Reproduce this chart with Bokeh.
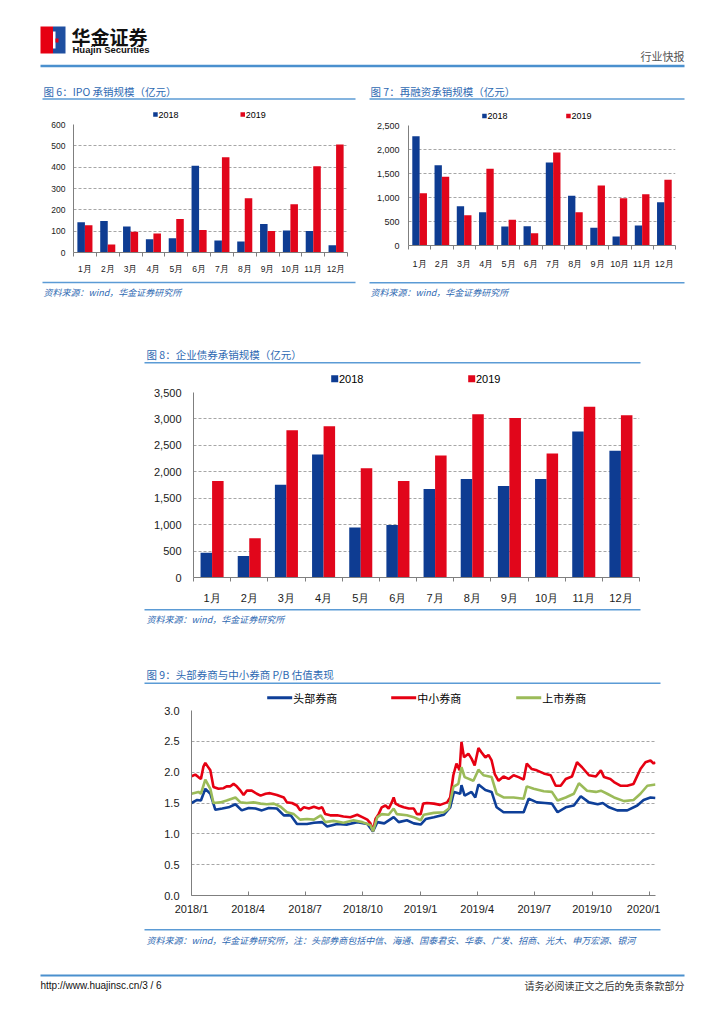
import pandas as pd
from bokeh.plotting import figure
from bokeh.models import (Range1d, FixedTicker, SingleIntervalTicker, NumeralTickFormatter,
                          ColumnDataSource)
from bokeh.layouts import column, row
from bokeh.transform import dodge
from bokeh.core.properties import value
from bokeh.embed import file_html
from bokeh.resources import INLINE

# ---------------- data ----------------
months = ["1月", "2月", "3月", "4月", "5月", "6月", "7月", "8月", "9月", "10月", "11月", "12月"]
series_names = ["2018", "2019"]

ipo_2018 = [142, 148, 122, 62, 67, 407, 56, 51, 134, 103, 101, 34]
ipo_2019 = [128, 37, 97, 89, 157, 106, 446, 254, 101, 226, 404, 506]

refi_2018 = [2278, 1674, 819, 694, 396, 403, 1729, 1035, 368, 188, 417, 903]
refi_2019 = [1090, 1431, 632, 1597, 535, 257, 1938, 694, 1250, 986, 1069, 1368]

bond_2018 = [469, 406, 1756, 2325, 944, 994, 1675, 1863, 1731, 1863, 2763, 2400]
bond_2019 = [1825, 744, 2788, 2863, 2069, 1825, 2306, 3088, 3019, 2344, 3231, 3069]

pb_names = ["头部券商", "中小券商", "上市券商"]

small_dates = ["2018-01-01", "2018-01-07", "2018-01-12", "2018-01-16", "2018-01-20", "2018-01-23", "2018-01-27", "2018-01-31", "2018-02-05", "2018-02-13",
               "2018-02-21", "2018-02-26", "2018-03-04", "2018-03-09", "2018-03-14", "2018-03-20", "2018-03-25", "2018-03-30", "2018-04-07", "2018-04-15",
               "2018-04-21", "2018-04-29", "2018-05-06", "2018-05-17", "2018-05-28", "2018-06-02", "2018-06-10", "2018-06-18", "2018-06-23", "2018-06-29",
               "2018-07-07", "2018-07-15", "2018-07-23", "2018-07-28", "2018-08-02", "2018-08-10", "2018-08-21", "2018-08-31", "2018-09-11", "2018-09-22",
               "2018-09-30", "2018-10-08", "2018-10-13", "2018-10-17", "2018-10-21", "2018-10-26", "2018-10-31", "2018-11-06", "2018-11-11", "2018-11-16",
               "2018-11-19", "2018-11-22", "2018-11-27", "2018-12-05", "2018-12-13", "2018-12-21", "2018-12-26", "2019-01-01", "2019-01-05", "2019-01-11",
               "2019-01-22", "2019-02-01", "2019-02-12", "2019-02-17", "2019-02-22", "2019-02-27", "2019-03-04", "2019-03-07", "2019-03-11", "2019-03-18",
               "2019-03-23", "2019-03-28", "2019-04-03", "2019-04-08", "2019-04-14", "2019-04-19", "2019-04-24", "2019-04-29", "2019-05-05", "2019-05-13",
               "2019-05-21", "2019-05-29", "2019-06-06", "2019-06-14", "2019-06-19", "2019-06-27", "2019-07-05", "2019-07-16", "2019-07-27", "2019-08-04",
               "2019-08-12", "2019-08-20", "2019-08-30", "2019-09-07", "2019-09-15", "2019-09-26", "2019-10-07", "2019-10-15", "2019-10-20", "2019-10-30",
               "2019-11-05", "2019-11-15", "2019-11-26", "2019-12-06", "2019-12-11", "2019-12-17", "2019-12-25", "2020-01-02", "2020-01-07", "2020-01-10"]
small_pb = [1.935, 1.96, 1.92, 1.89, 2.09, 2.15, 2.09, 2.03, 1.76, 1.73,
            1.74, 1.77, 1.77, 1.81, 1.77, 1.70, 1.63, 1.70, 1.70, 1.65,
            1.62, 1.65, 1.66, 1.63, 1.59, 1.51, 1.50, 1.46, 1.38, 1.43,
            1.41, 1.44, 1.41, 1.43, 1.32, 1.30, 1.30, 1.28, 1.27, 1.31,
            1.27, 1.23, 1.17, 1.05, 1.24, 1.32, 1.43, 1.46, 1.41, 1.51,
            1.59, 1.49, 1.46, 1.43, 1.41, 1.41, 1.32, 1.32, 1.49, 1.50,
            1.49, 1.47, 1.51, 1.59, 1.95, 2.14, 2.03, 2.49, 2.24, 2.30,
            2.22, 2.11, 2.39, 2.32, 2.24, 2.28, 2.19, 1.97, 1.86, 1.93,
            1.89, 1.95, 1.92, 1.88, 2.14, 2.05, 2.03, 1.98, 1.95, 1.78,
            1.78, 1.89, 1.93, 2.16, 2.08, 1.95, 1.93, 2.03, 1.92, 1.89,
            1.84, 1.78, 1.78, 1.81, 1.92, 2.05, 2.16, 2.19, 2.14, 2.16]

listed_dates = ["2018-01-01", "2018-01-12", "2018-01-16", "2018-01-23", "2018-01-31", "2018-02-05", "2018-02-16", "2018-02-26", "2018-03-12", "2018-03-20",
                "2018-03-30", "2018-04-10", "2018-04-21", "2018-05-01", "2018-05-12", "2018-05-23", "2018-06-02", "2018-06-13", "2018-06-23", "2018-07-04",
                "2018-07-15", "2018-07-26", "2018-08-02", "2018-08-15", "2018-08-31", "2018-09-16", "2018-09-30", "2018-10-13", "2018-10-17", "2018-10-24",
                "2018-10-31", "2018-11-11", "2018-11-19", "2018-11-24", "2018-12-10", "2018-12-21", "2019-01-01", "2019-01-06", "2019-01-22", "2019-02-07",
                "2019-02-15", "2019-02-22", "2019-03-02", "2019-03-07", "2019-03-12", "2019-03-26", "2019-04-03", "2019-04-11", "2019-04-24", "2019-05-02",
                "2019-05-13", "2019-05-29", "2019-06-14", "2019-06-19", "2019-06-30", "2019-07-16", "2019-07-29", "2019-08-07", "2019-08-20", "2019-09-02",
                "2019-09-10", "2019-09-23", "2019-10-07", "2019-10-15", "2019-10-25", "2019-11-05", "2019-11-21", "2019-12-06", "2019-12-17", "2019-12-28",
                "2020-01-10"]
listed_pb = [1.65, 1.68, 1.65, 1.88, 1.73, 1.50, 1.51, 1.54, 1.59, 1.51,
             1.50, 1.51, 1.49, 1.48, 1.49, 1.44, 1.35, 1.32, 1.23, 1.24,
             1.23, 1.30, 1.19, 1.21, 1.18, 1.22, 1.19, 1.14, 1.04, 1.27,
             1.32, 1.31, 1.41, 1.32, 1.30, 1.27, 1.22, 1.31, 1.34, 1.35,
             1.41, 1.76, 1.81, 2.08, 1.92, 1.86, 2.04, 1.95, 1.92, 1.65,
             1.59, 1.59, 1.57, 1.77, 1.73, 1.69, 1.68, 1.54, 1.59, 1.65,
             1.82, 1.70, 1.68, 1.70, 1.65, 1.59, 1.53, 1.55, 1.65, 1.78,
             1.80]

head_dates = ["2018-01-01", "2018-01-10", "2018-01-16", "2018-01-23", "2018-01-31", "2018-02-08", "2018-02-19", "2018-03-01", "2018-03-12", "2018-03-22",
              "2018-04-02", "2018-04-13", "2018-04-23", "2018-05-04", "2018-05-17", "2018-05-28", "2018-06-08", "2018-06-18", "2018-07-04", "2018-07-15",
              "2018-07-28", "2018-08-05", "2018-08-21", "2018-09-06", "2018-09-22", "2018-10-08", "2018-10-17", "2018-10-24", "2018-11-04", "2018-11-19",
              "2018-11-27", "2018-12-10", "2018-12-21", "2019-01-01", "2019-01-09", "2019-01-22", "2019-02-07", "2019-02-17", "2019-02-23", "2019-03-05",
              "2019-03-07", "2019-03-12", "2019-03-23", "2019-03-29", "2019-04-03", "2019-04-14", "2019-04-24", "2019-05-02", "2019-05-13", "2019-05-29",
              "2019-06-14", "2019-06-22", "2019-07-05", "2019-07-18", "2019-07-29", "2019-08-07", "2019-08-20", "2019-09-02", "2019-09-13", "2019-09-26",
              "2019-10-10", "2019-10-18", "2019-10-28", "2019-11-10", "2019-11-26", "2019-12-12", "2019-12-22", "2020-01-02", "2020-01-10"]
head_pb = [1.50, 1.55, 1.54, 1.73, 1.65, 1.39, 1.41, 1.43, 1.48, 1.38,
           1.42, 1.41, 1.38, 1.42, 1.41, 1.30, 1.30, 1.16, 1.16, 1.18,
           1.19, 1.12, 1.16, 1.15, 1.19, 1.16, 1.04, 1.19, 1.17, 1.27,
           1.19, 1.22, 1.17, 1.15, 1.24, 1.27, 1.31, 1.43, 1.68, 1.65,
           1.79, 1.62, 1.68, 1.59, 1.80, 1.71, 1.68, 1.43, 1.35, 1.35,
           1.35, 1.57, 1.51, 1.50, 1.49, 1.35, 1.43, 1.46, 1.61, 1.51,
           1.48, 1.50, 1.43, 1.38, 1.38, 1.46, 1.55, 1.59, 1.58]

pb_tick_dates = ["2018-01-01", "2018-04-01", "2018-07-01", "2018-10-01", "2019-01-01",
                 "2019-04-01", "2019-07-01", "2019-10-01", "2020-01-01"]
pb_tick_labels = ["2018/1", "2018/4", "2018/7", "2018/10", "2019/1",
                  "2019/4", "2019/7", "2019/10", "2020/1"]

# ---------------- styles ----------------
CJK = "Noto Sans CJK SC"
LAT = "Liberation Sans"
TITLE_BLUE = "#2E69B2"
RULE_BLUE = "#5B9BD5"
C2018 = "#0E3C92"
C2019 = "#E1061B"
C_HEAD = "#0E3F98"
C_SMALL = "#E60012"
C_LISTED = "#9BBB59"
AXIS_GREY = "#7F7F7F"
GRID_GREY = "#A6A6A6"
SRC_TEXT = "资料来源：wind，华金证券研究所"
PAGE_W = 708


def deco(w, h):
    f = figure(width=w, height=h, x_range=Range1d(0, w), y_range=Range1d(h, 0),
               x_axis_type=None, y_axis_type=None,
               toolbar_location=None, output_backend="svg",
               min_border_left=0, min_border_right=0, min_border_top=0, min_border_bottom=0)
    f.outline_line_color = None
    return f


def put_text(f, x, y, s, size, color="#000000", font=CJK, align="left", style="normal"):
    f.text(x=[x], y=[y], text=[s], text_font=value(font), text_font_size=value(f"{size}px"),
           text_font_style=style, text_color=color, text_align=align, text_baseline="middle")


def rule(f, x0, x1, y, color=RULE_BLUE, width=1.5):
    f.segment(x0=[x0], y0=[y], x1=[x1], y1=[y], line_color=color, line_width=width)


def square_legend(f, items, y, size, fs):
    for (x, label, color) in items:
        f.quad(left=[x], right=[x + size], top=[y - size / 2], bottom=[y + size / 2],
               fill_color=color, line_color=None)
        put_text(f, x + size + 0.8, y, label, fs, "#000000", LAT)


def bar_chart(w, h, a, b, ymax, step, bl, br, bt, bb, fs, bw, ystand, xstand):
    src = ColumnDataSource(dict(pos=list(range(1, len(months) + 1)), y2018=a, y2019=b))
    p = figure(width=w, height=h, x_range=Range1d(0.5, len(months) + 0.5), y_range=Range1d(0, ymax),
               toolbar_location=None, output_backend="svg",
               min_border_left=bl, min_border_right=br, min_border_top=bt, min_border_bottom=bb)
    p.vbar(x=dodge("pos", -bw / 2, range=p.x_range), top="y2018", width=bw, source=src,
           fill_color=C2018, line_color=None)
    p.vbar(x=dodge("pos", bw / 2, range=p.x_range), top="y2019", width=bw, source=src,
           fill_color=C2019, line_color=None)
    p.outline_line_color = None
    p.xgrid.visible = False
    p.ygrid.grid_line_color = GRID_GREY
    p.ygrid.grid_line_dash = "3 2"
    xa = p.xaxis[0]
    ya = p.yaxis[0]
    xa.ticker = FixedTicker(ticks=list(range(1, len(months) + 1)),
                            minor_ticks=[i + 0.5 for i in range(len(months) + 1)])
    xa.major_label_overrides = {i + 1: m for i, m in enumerate(months)}
    ya.ticker = SingleIntervalTicker(interval=step, num_minor_ticks=0)
    ya.formatter = NumeralTickFormatter(format="0,0")
    for ax in (xa, ya):
        ax.axis_line_color = AXIS_GREY
        ax.major_label_text_font = LAT
        ax.major_label_text_font_size = f"{fs}px"
        ax.major_label_text_color = "#1A1A1A"
        ax.major_tick_in = 0
        ax.major_tick_out = 0
        ax.minor_tick_in = 0
    xa.minor_tick_out = 4
    xa.minor_tick_line_color = AXIS_GREY
    ya.minor_tick_out = 0
    ya.major_label_standoff = ystand
    xa.major_label_standoff = xstand
    return p


# ---------------- header (page y 0-80) ----------------
header = deco(PAGE_W, 80)
header.quad(left=[40], right=[52.5], top=[26], bottom=[53], fill_color="#E60012", line_color=None)
header.quad(left=[52.5], right=[65], top=[26], bottom=[53], fill_color="#1F4FA0", line_color=None)
header.quad(left=[52.5], right=[55], top=[31], bottom=[48], fill_color="#FFFFFF", line_color=None)
header.quad(left=[55], right=[58], top=[38], bottom=[42], fill_color="#E60012", line_color=None)
put_text(header, 71, 36, "华金证券", 19, "#111111", CJK, style="bold")
put_text(header, 72, 49, "Huajin Securities", 9.5, "#111111", LAT, style="bold")
put_text(header, 684, 55, "行业快报", 11, "#555555", CJK, align="right")
rule(header, 40, 684, 65.5, "#4A90CE", 2.5)

# ---------------- figure 6 (x 0-360, y 80-340) ----------------
t6 = deco(360, 40)
put_text(t6, 43, 11, "图 6：IPO 承销规模（亿元）", 10.5, TITLE_BLUE)
rule(t6, 42, 355, 18.5)
square_legend(t6, [(152.7, series_names[0], C2018), (240, series_names[1], C2019)], 34, 4.5, 9)
c6 = bar_chart(360, 156, ipo_2018, ipo_2019, 600, 100, 73, 13, 4, 24, 8.5, 0.33, 8, 7)
s6 = deco(360, 64)
rule(s6, 42, 355, 6)
put_text(s6, 43, 16, SRC_TEXT, 9, TITLE_BLUE, style="italic")
block6 = column(t6, row(c6), s6)

# ---------------- figure 7 (x 360-708, y 80-340) ----------------
t7 = deco(348, 40)
put_text(t7, 10, 11, "图 7：再融资承销规模（亿元）", 10.5, TITLE_BLUE)
rule(t7, 9, 324, 18.5)
square_legend(t7, [(121.7, series_names[0], C2018), (205.7, series_names[1], C2019)], 35.5, 4.5, 9)
c7 = bar_chart(348, 156, refi_2018, refi_2019, 2500, 500, 48, 33, 5, 31, 9, 0.33, 9, 9)
s7 = deco(348, 64)
rule(s7, 9, 324, 6.3)
put_text(s7, 10, 15.7, SRC_TEXT, 9, TITLE_BLUE, style="italic")
block7 = column(t7, row(c7), s7)

top_row = row(block6, block7)

# ---------------- figure 8 (y 340-660) ----------------
t8 = deco(PAGE_W, 46)
put_text(t8, 146, 14, "图 8：企业债券承销规模（亿元）", 10.5, TITLE_BLUE)
rule(t8, 144, 640, 22.3)
square_legend(t8, [(330.7, series_names[0], C2018), (467.7, series_names[1], C2019)], 38.3, 7, 11)
c8 = bar_chart(PAGE_W, 220, bond_2018, bond_2019, 3500, 500, 193, 69, 6, 27, 11, 0.31, 12, 10)
s8 = deco(PAGE_W, 54)
rule(s8, 144, 640, 3.3)
put_text(s8, 146, 13, SRC_TEXT, 9, TITLE_BLUE, style="italic")
block8 = column(t8, row(c8), s8)

# ---------------- figure 9 (y 660-970) ----------------
t9 = deco(PAGE_W, 45)
put_text(t9, 146, 14.3, "图 9：头部券商与中小券商 P/B 估值表现", 10.5, TITLE_BLUE)
rule(t9, 144, 660, 22.7)
for (x0, name, color) in [(266.7, pb_names[0], C_HEAD), (390.7, pb_names[1], C_SMALL), (515.7, pb_names[2], C_LISTED)]:
    t9.segment(x0=[x0], y0=[37.3], x1=[x0 + 25], y1=[37.3], line_color=color, line_width=3)
    put_text(t9, x0 + 26, 37.3, name, 11, "#000000", CJK)

p9 = figure(width=660, height=217, x_axis_type="datetime",
            x_range=Range1d(pd.Timestamp("2018-01-01"), pd.Timestamp("2020-01-10")),
            y_range=Range1d(0, 3),
            toolbar_location=None, output_backend="svg",
            min_border_left=191, min_border_right=5, min_border_top=5, min_border_bottom=27)
src_head = ColumnDataSource(dict(d=pd.to_datetime(head_dates), v=head_pb))
src_small = ColumnDataSource(dict(d=pd.to_datetime(small_dates), v=small_pb))
src_listed = ColumnDataSource(dict(d=pd.to_datetime(listed_dates), v=listed_pb))
p9.line(x="d", y="v", source=src_head, line_color=C_HEAD, line_width=2.6)
p9.line(x="d", y="v", source=src_small, line_color=C_SMALL, line_width=2.6)
p9.line(x="d", y="v", source=src_listed, line_color=C_LISTED, line_width=2.6)
p9.outline_line_color = None
p9.xgrid.visible = False
p9.ygrid.grid_line_color = GRID_GREY
p9.ygrid.grid_line_dash = "3 2"
tick_ms = [int(pd.Timestamp(d).value // 10**6) for d in pb_tick_dates]
xa9 = p9.xaxis[0]
ya9 = p9.yaxis[0]
xa9.ticker = FixedTicker(ticks=tick_ms)
xa9.major_label_overrides = {t: lab for t, lab in zip(tick_ms, pb_tick_labels)}
ya9.ticker = SingleIntervalTicker(interval=0.5, num_minor_ticks=0)
ya9.formatter = NumeralTickFormatter(format="0.0")
for ax in (xa9, ya9):
    ax.axis_line_color = AXIS_GREY
    ax.major_label_text_font = LAT
    ax.major_label_text_font_size = "11px"
    ax.major_label_text_color = "#1A1A1A"
    ax.minor_tick_in = 0
    ax.minor_tick_out = 0
    ax.major_tick_out = 0
    ax.major_tick_in = 0
xa9.major_tick_in = 4
xa9.major_tick_line_color = AXIS_GREY
xa9.major_label_standoff = 7
ya9.major_label_standoff = 12
filler9 = deco(PAGE_W - 660, 217)
row9 = row(p9, filler9)

s9 = deco(PAGE_W, 48)
rule(s9, 144, 660, 7.3)
put_text(s9, 146, 18, "资料来源：wind，华金证券研究所，注：头部券商包括中信、海通、国泰君安、华泰、广发、招商、光大、申万宏源、银河",
         9, TITLE_BLUE, style="italic")
block9 = column(t9, row9, s9)

# ---------------- footer (y 970-1000) ----------------
footer = deco(PAGE_W, 30)
rule(footer, 40, 684, 5, "#4A90CE", 2)
put_text(footer, 40, 15, "http://www.huajinsc.cn/3 / 6", 10, "#111111", LAT)
put_text(footer, 684, 15, "请务必阅读正文之后的免责条款部分", 10, "#333333", CJK, align="right")

page = column(header, top_row, block8, block9, footer)

open("out.html", "w").write(file_html(page, INLINE, title="华金证券 行业快报"))
